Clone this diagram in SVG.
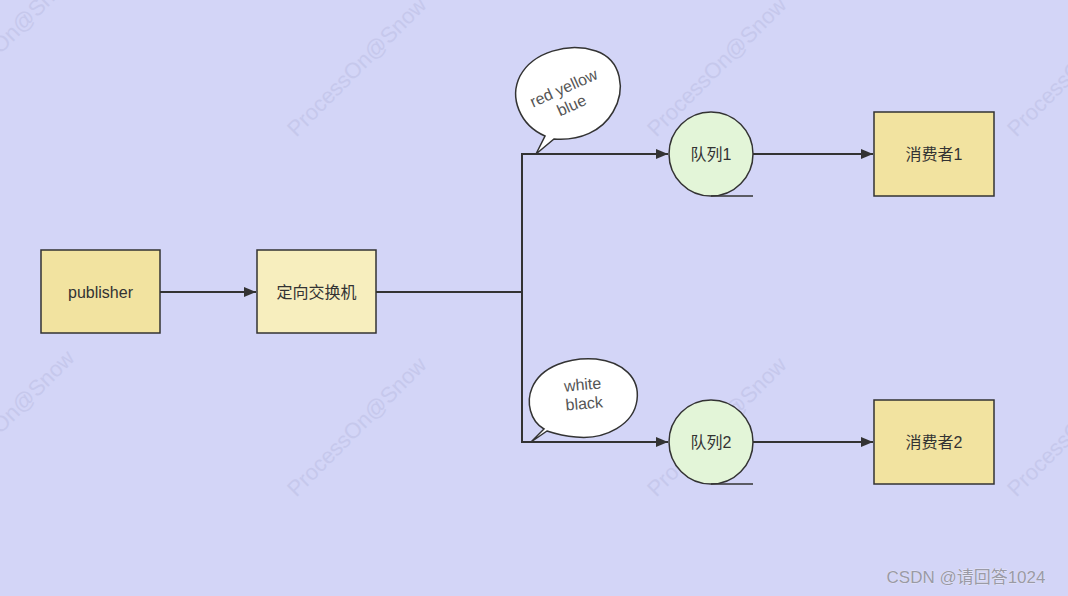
<svg xmlns="http://www.w3.org/2000/svg" width="1068" height="596" viewBox="0 0 1068 596">
<defs>
<marker id="ah" markerWidth="12" markerHeight="10" refX="12" refY="5" orient="auto" markerUnits="userSpaceOnUse"><path d="M0,0 L12,5 L0,10 Z" fill="#333"/></marker>
<style>
.box{stroke:#333;stroke-width:1.5}
.y1{fill:#f2e3a0}
.y2{fill:#f7eebe}
.q{fill:#e3f5d8;stroke:#333;stroke-width:1.5}
.t{font-family:"Liberation Sans","Noto Sans CJK SC",sans-serif;font-size:16px;fill:#333;text-anchor:middle;dominant-baseline:central}
.c{fill:none;stroke:#333;stroke-width:2}
.b{fill:#fff;stroke:#333;stroke-width:1.5}
.bt{font-family:"Liberation Sans",sans-serif;font-size:16px;fill:#555;text-anchor:middle}
.wm{font-family:"Liberation Sans",sans-serif;font-size:22px;fill:#c6c8ec;text-anchor:middle}
</style>
</defs>
<rect width="1068" height="596" fill="#d3d5f7"/>
<g id="watermarks">
<text class="wm" transform="translate(10,45) rotate(-45)">ProcessOn@Snow</text>
<text class="wm" transform="translate(362,72) rotate(-45)">ProcessOn@Snow</text>
<text class="wm" transform="translate(722,72) rotate(-45)">ProcessOn@Snow</text>
<text class="wm" transform="translate(1082,72) rotate(-45)">ProcessOn@Snow</text>
<text class="wm" transform="translate(10,425) rotate(-45)">ProcessOn@Snow</text>
<text class="wm" transform="translate(362,432) rotate(-45)">ProcessOn@Snow</text>
<text class="wm" transform="translate(722,432) rotate(-45)">ProcessOn@Snow</text>
<text class="wm" transform="translate(1082,432) rotate(-45)">ProcessOn@Snow</text>
</g>
<g id="connectors">
<line class="c" x1="160" y1="292" x2="256" y2="292" marker-end="url(#ah)"/>
<polyline class="c" points="376,292 522,292"/>
<polyline class="c" points="522,292 522,154 668,154" marker-end="url(#ah)"/>
<polyline class="c" points="522,292 522,442 668,442" marker-end="url(#ah)"/>
<line class="c" x1="753" y1="154" x2="873" y2="154" marker-end="url(#ah)"/>
<line class="c" x1="753" y1="442" x2="873" y2="442" marker-end="url(#ah)"/>
</g>
<g id="publisher"><rect class="box y1" x="41" y="250" width="119" height="83"/><text class="t" x="100.5" y="292">publisher</text></g>
<g id="exchange"><rect class="box y2" x="257" y="250" width="119" height="83"/><text class="t" x="316.5" y="292">定向交换机</text></g>
<g id="queue1"><circle class="q" cx="711" cy="154" r="42"/><line x1="711" y1="196" x2="753" y2="196" stroke="#333" stroke-width="1.5"/><text class="t" x="711" y="154">队列1</text></g>
<g id="queue2"><circle class="q" cx="711" cy="442" r="42"/><line x1="711" y1="484" x2="753" y2="484" stroke="#333" stroke-width="1.5"/><text class="t" x="711" y="442">队列2</text></g>
<g id="consumer1"><rect class="box y1" x="874" y="112" width="120" height="84"/><text class="t" x="934" y="154">消费者1</text></g>
<g id="consumer2"><rect class="box y1" x="874" y="400" width="120" height="84"/><text class="t" x="934" y="442">消费者2</text></g>
<g id="bubble1">
<path class="b" d="M536,154 L545,136 C520,125 509,98 520,76 C533,52 568,42 596,51 C622,60 626,90 613,112 C602,131 580,141 554,139 Z"/>
<text class="bt" transform="translate(566,93) rotate(-24)"><tspan x="0" y="0">red yellow</tspan><tspan x="0" y="19">blue</tspan></text>
</g>
<g id="bubble2">
<path class="b" d="M531,442 L544,429 C530,421 526,402 532,388 C541,366 570,357 596,359 C623,362 640,378 637,400 C634,424 606,440 576,437 C563,436 553,433 547,431 Z"/>
<text class="bt" transform="translate(583,390) rotate(-5)"><tspan x="0" y="0">white</tspan><tspan x="0" y="19">black</tspan></text>
</g>
<text x="966" y="583" style="font-family:'Liberation Sans','Noto Sans CJK SC',sans-serif;font-size:17px;fill:#9a9aa6;text-anchor:middle;stroke:#f4f4fa;stroke-width:0.4;paint-order:stroke">CSDN @请回答1024</text>
</svg>
